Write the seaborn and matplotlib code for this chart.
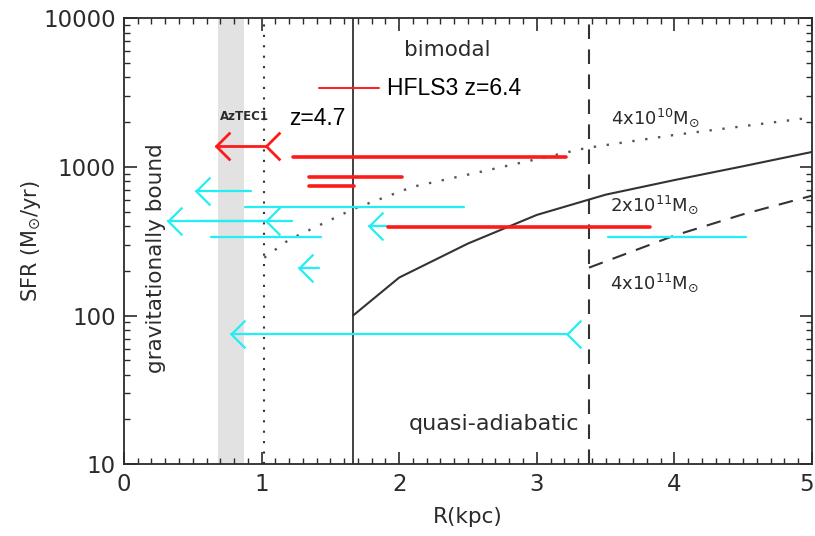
import numpy as np
import pandas as pd
import matplotlib
matplotlib.use("Agg")
import matplotlib.pyplot as plt
import matplotlib.transforms as mtransforms
from matplotlib.path import Path
from matplotlib.ticker import MultipleLocator, LogLocator, NullFormatter, FixedLocator, FixedFormatter
import seaborn as sns

# ---------------- data ----------------
# model curves: minimum radius per halo mass
r_dot = [1.02, 1.2, 1.67, 2.1, 2.6, 3.36, 4.0, 5.0]
sfr_dot = [245, 324, 522, 735, 930, 1340, 1640, 2150]
r_solid = [1.665, 2.0, 2.5, 3.0, 3.5, 4.0, 4.5, 5.0]
sfr_solid = [100, 180, 305, 475, 650, 815, 1010, 1260]
r_dash = [3.38, 4.0, 4.5, 5.0]
sfr_dash = [210, 345, 480, 640]
r_vertical = [1.02, 1.665, 3.38]   # dotted, solid, dashed

# shaded band (AzTEC1 size)
band_r = [0.68, 0.87]

# red (HFLS3) horizontal ranges
red_lo = [1.23, 1.345, 1.345, 1.92]
red_hi = [3.21, 2.02, 1.67, 3.82]
red_sfr = [1170, 850, 745, 392]
# red upper-limit arrow (AzTEC1)
red_arrow_from = [1.03]
red_arrow_to = [0.67]
red_arrow_sfr = [1380]

# cyan horizontal ranges
cyan_lo = [0.88, 0.58, 0.63, 3.52]
cyan_hi = [2.47, 1.22, 1.43, 4.52]
cyan_sfr = [540, 430, 337, 335]
# cyan arrows (upper limits in radius)
cyan_arrow_from = [0.92, 1.03, 1.42, 1.92, 3.22]
cyan_arrow_to = [0.52, 0.32, 1.27, 1.78, 0.78]
cyan_arrow_sfr = [683, 430, 210, 400, 75]
cyan_arrow_fork = [False, True, False, False, True]

x_ticks = [0, 1, 2, 3, 4, 5]
y_ticks = [10, 100, 1000, 10000]
y_ticklabels = ["10", "100", "1000", "10000"]

# ---------------- style ----------------
sns.set_style("ticks")
plt.rcParams["font.family"] = ["DejaVu Sans"]
TXT = "#2b2b2b"
RED = "#ff1a1a"
CYAN = "#22eef5"
GRAY = "#333333"

fig = plt.figure(figsize=(8.15, 5.36), dpi=100)
ax = fig.add_axes([0.1521, 0.134, 0.8442, 0.832])
ax.set_yscale("log")
ax.set_xlim(0, 5)
ax.set_ylim(10, 10000)

# shaded band
ax.axvspan(band_r[0], band_r[1], color="#e2e2e2", lw=0, zorder=0)

# vertical boundary lines
ax.axvline(r_vertical[0], color=GRAY, lw=1.5, ls=(0, (1, 4)), zorder=1)
ax.axvline(r_vertical[1], color=GRAY, lw=1.3, ls="-", zorder=1)
ax.axvline(r_vertical[2], color=GRAY, lw=1.5, ls=(0, (7, 5)), zorder=1)

# model curves
sns.lineplot(x=r_dot, y=sfr_dot, ax=ax, color="#555555", lw=1.7,
             linestyle=(0, (1, 4.5)), estimator=None, sort=False, zorder=2)
sns.lineplot(x=r_solid, y=sfr_solid, ax=ax, color=GRAY, lw=1.5,
             estimator=None, sort=False, zorder=2)
sns.lineplot(x=r_dash, y=sfr_dash, ax=ax, color=GRAY, lw=1.5,
             linestyle=(0, (7, 5)), estimator=None, sort=False, zorder=2)

# open "<" marker used for arrow heads and limit forks
fork = Path([(1, 1), (0, 0), (1, -1)], [Path.MOVETO, Path.LINETO, Path.LINETO])

def hbar(lo, hi, s, color, lw, z):
    df = pd.DataFrame({"R": [lo, hi], "SFR": [s, s]})
    sns.lineplot(data=df, x="R", y="SFR", ax=ax, color=color, lw=lw,
                 estimator=None, sort=False, zorder=z)

def arrow(frm, to, s, color, lw, z, with_fork):
    hbar(to, frm, s, color, lw, z)
    ax.plot([to], [s], marker=fork, ms=20, mfc="none", mec=color, mew=lw,
            ls="none", zorder=z)
    if with_fork:
        ax.plot([frm], [s], marker=fork, ms=20, mfc="none", mec=color, mew=lw,
                ls="none", zorder=z)

for lo, hi, s in zip(cyan_lo, cyan_hi, cyan_sfr):
    hbar(lo, hi, s, CYAN, 1.6, 3)
for f, t, s, fk in zip(cyan_arrow_from, cyan_arrow_to, cyan_arrow_sfr, cyan_arrow_fork):
    arrow(f, t, s, CYAN, 1.6, 3, fk)

for lo, hi, s in zip(red_lo, red_hi, red_sfr):
    hbar(lo, hi, s, RED, 2.6, 4)
for f, t, s in zip(red_arrow_from, red_arrow_to, red_arrow_sfr):
    arrow(f, t, s, RED, 2.0, 4, True)

# legend entry
ax.plot([1.42, 1.85], [3390, 3390], color=RED, lw=1.4, zorder=4)
ax.text(1.91, 3390, "HFLS3 z=6.4", fontsize=16.5, color="black",
        family="Liberation Sans", va="center", ha="left")

# annotations
ax.text(1.2, 2130, "z=4.7", fontsize=16.5, color="black",
        family="Liberation Sans", va="center", ha="left")
ax.text(0.875, 2170, "AzTEC1", fontsize=8.5, fontweight="bold", color=TXT,
        va="center", ha="center")
ax.text(2.35, 6100, "bimodal", fontsize=15.5, color=TXT, va="center", ha="center")
ax.text(3.31, 18.5, "quasi-adiabatic", fontsize=16, color=TXT, va="center", ha="right")
ax.text(0.235, 245, "gravitationally bound", fontsize=15.5, color=TXT, rotation=90,
        va="center", ha="center")
ax.text(3.54, 2130, r"4x10$^{10}$M$_{\odot}$", fontsize=13, color=TXT, va="center", ha="left")
ax.text(3.53, 560, r"2x10$^{11}$M$_{\odot}$", fontsize=13, color=TXT, va="center", ha="left")
ax.text(3.53, 166, r"4x10$^{11}$M$_{\odot}$", fontsize=13, color=TXT, va="center", ha="left")

# axes formatting
ax.xaxis.set_major_locator(FixedLocator(x_ticks))
ax.xaxis.set_minor_locator(MultipleLocator(0.1))
ax.yaxis.set_major_locator(FixedLocator(y_ticks))
ax.yaxis.set_major_formatter(FixedFormatter(y_ticklabels))
ax.yaxis.set_minor_locator(LogLocator(base=10, subs=np.arange(2, 10)))
ax.yaxis.set_minor_formatter(NullFormatter())
ax.tick_params(which="both", direction="in", top=True, right=True, colors=TXT,
               labelsize=16.5)
ax.tick_params(which="major", length=9, width=1.2, pad=6)
ax.tick_params(which="minor", length=4.5, width=1.0)
for sp in ax.spines.values():
    sp.set_color(TXT)
    sp.set_linewidth(1.3)

# keep the last x tick label just inside the figure edge
last = ax.get_xticklabels()[-1]
last.set_transform(last.get_transform() +
                   mtransforms.ScaledTranslation(-5 / 100, 0, fig.dpi_scale_trans))

ax.set_xlabel("R(kpc)", fontsize=15.5, color=TXT)
ax.set_ylabel(r"SFR (M$_{\odot}$/yr)", fontsize=15, color=TXT)
ax.xaxis.set_label_coords(0.5, -0.095)
ax.yaxis.set_label_coords(-0.118, 0.5)

fig.savefig("out.png", dpi=100)
